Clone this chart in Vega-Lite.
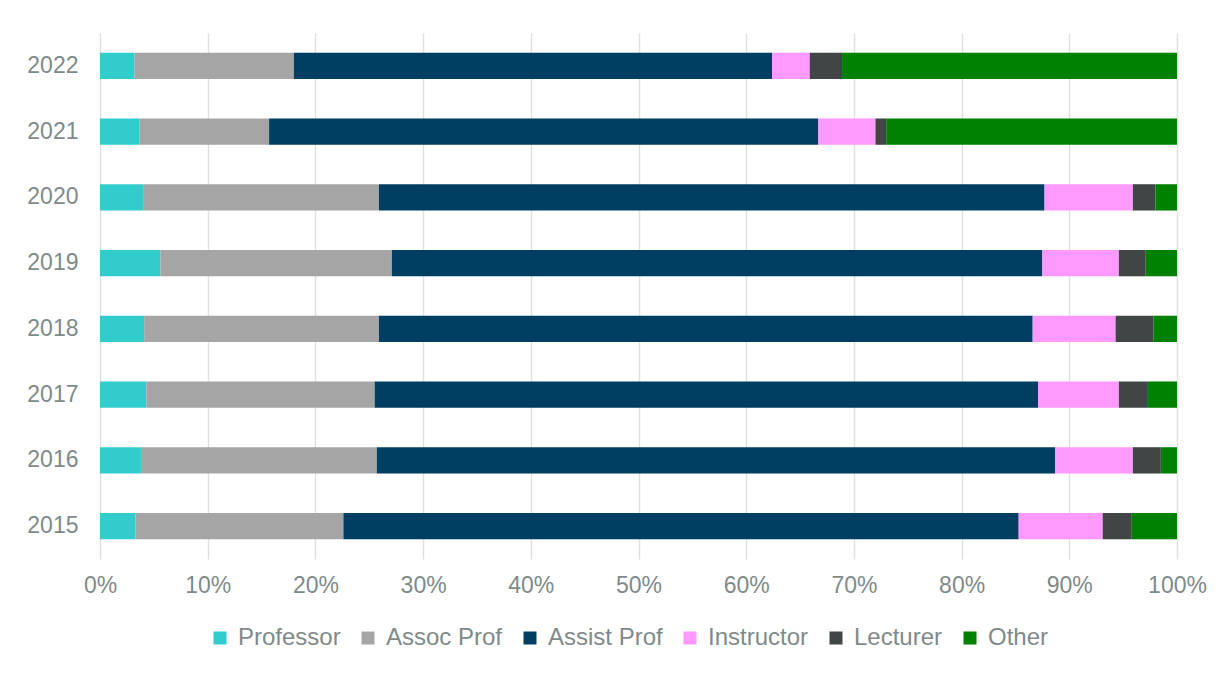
{
  "$schema": "https://vega.github.io/schema/vega-lite/v6.json",
  "autosize": {"type": "none"},
  "width": 1077,
  "height": 526,
  "padding": {"left": 100, "top": 33, "right": 51, "bottom": 116},
  "background": "white",
  "config": {"view": {"stroke": null}, "font": "Liberation Sans"},
  "data": {"values": [
    {"year": "2022", "role": "Professor", "value": 3.2},
    {"year": "2022", "role": "Assoc Prof", "value": 14.8},
    {"year": "2022", "role": "Assist Prof", "value": 44.4},
    {"year": "2022", "role": "Instructor", "value": 3.5},
    {"year": "2022", "role": "Lecturer", "value": 3.0},
    {"year": "2022", "role": "Other", "value": 31.1},
    {"year": "2021", "role": "Professor", "value": 3.65},
    {"year": "2021", "role": "Assoc Prof", "value": 12.05},
    {"year": "2021", "role": "Assist Prof", "value": 51.0},
    {"year": "2021", "role": "Instructor", "value": 5.3},
    {"year": "2021", "role": "Lecturer", "value": 1.0},
    {"year": "2021", "role": "Other", "value": 27.0},
    {"year": "2020", "role": "Professor", "value": 4.0},
    {"year": "2020", "role": "Assoc Prof", "value": 21.9},
    {"year": "2020", "role": "Assist Prof", "value": 61.8},
    {"year": "2020", "role": "Instructor", "value": 8.2},
    {"year": "2020", "role": "Lecturer", "value": 2.1},
    {"year": "2020", "role": "Other", "value": 2.0},
    {"year": "2019", "role": "Professor", "value": 5.6},
    {"year": "2019", "role": "Assoc Prof", "value": 21.5},
    {"year": "2019", "role": "Assist Prof", "value": 60.4},
    {"year": "2019", "role": "Instructor", "value": 7.1},
    {"year": "2019", "role": "Lecturer", "value": 2.5},
    {"year": "2019", "role": "Other", "value": 2.9},
    {"year": "2018", "role": "Professor", "value": 4.1},
    {"year": "2018", "role": "Assoc Prof", "value": 21.8},
    {"year": "2018", "role": "Assist Prof", "value": 60.7},
    {"year": "2018", "role": "Instructor", "value": 7.7},
    {"year": "2018", "role": "Lecturer", "value": 3.5},
    {"year": "2018", "role": "Other", "value": 2.2},
    {"year": "2017", "role": "Professor", "value": 4.3},
    {"year": "2017", "role": "Assoc Prof", "value": 21.2},
    {"year": "2017", "role": "Assist Prof", "value": 61.6},
    {"year": "2017", "role": "Instructor", "value": 7.5},
    {"year": "2017", "role": "Lecturer", "value": 2.7},
    {"year": "2017", "role": "Other", "value": 2.7},
    {"year": "2016", "role": "Professor", "value": 3.8},
    {"year": "2016", "role": "Assoc Prof", "value": 21.9},
    {"year": "2016", "role": "Assist Prof", "value": 63.0},
    {"year": "2016", "role": "Instructor", "value": 7.2},
    {"year": "2016", "role": "Lecturer", "value": 2.6},
    {"year": "2016", "role": "Other", "value": 1.5},
    {"year": "2015", "role": "Professor", "value": 3.3},
    {"year": "2015", "role": "Assoc Prof", "value": 19.3},
    {"year": "2015", "role": "Assist Prof", "value": 62.7},
    {"year": "2015", "role": "Instructor", "value": 7.8},
    {"year": "2015", "role": "Lecturer", "value": 2.7},
    {"year": "2015", "role": "Other", "value": 4.2}
  ]},
  "transform": [
    {"calculate": "indexof(['Professor', 'Assoc Prof', 'Assist Prof', 'Instructor', 'Lecturer', 'Other'], datum.role)", "as": "roleOrder"}
  ],
  "mark": {"type": "bar"},
  "encoding": {
    "y": {
      "field": "year", "type": "ordinal", "sort": "descending",
      "scale": {"paddingInner": 0.6, "paddingOuter": 0.3},
      "axis": {"title": null, "ticks": false, "domain": false, "grid": false,
               "labelFontSize": 23, "labelColor": "#7f8a8a", "labelPadding": 22}
    },
    "x": {
      "field": "value", "type": "quantitative", "stack": "normalize",
      "axis": {"title": null, "format": ".0%",
               "values": [0, 0.1, 0.2, 0.3, 0.4, 0.5, 0.6, 0.7, 0.8, 0.9, 1],
               "grid": true, "gridColor": "#dfe1e1", "gridWidth": 1.5,
               "ticks": false, "domain": false, "labelFlush": false,
               "labelFontSize": 23, "labelColor": "#7f8a8a", "labelPadding": 15}
    },
    "order": {"field": "roleOrder", "type": "quantitative", "sort": "ascending"},
    "color": {
      "field": "role", "type": "nominal",
      "sort": ["Professor", "Assoc Prof", "Assist Prof", "Instructor", "Lecturer", "Other"],
      "scale": {
        "domain": ["Professor", "Assoc Prof", "Assist Prof", "Instructor", "Lecturer", "Other"],
        "range": ["#33cccc", "#a5a5a5", "#013f62", "#ff99ff", "#404545", "#008000"]
      },
      "legend": {
        "title": null, "orient": "none", "direction": "horizontal",
        "legendX": 108, "legendY": 593,
        "symbolType": "square", "symbolSize": 169, "symbolStrokeWidth": 0,
        "labelFontSize": 24, "labelColor": "#7f8a8a", "labelOffset": 6,
        "columnPadding": 15, "padding": 0
      }
    }
  }
}
